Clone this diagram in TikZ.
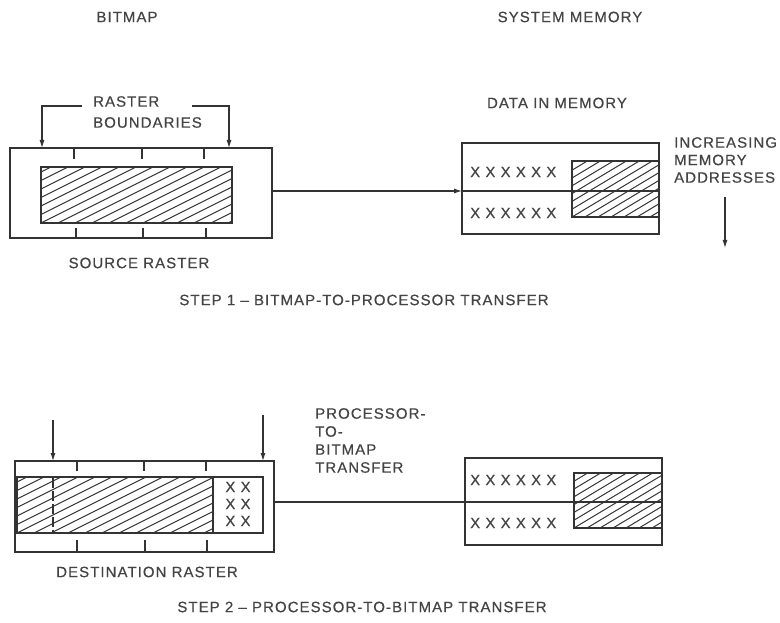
\documentclass[tikz,border=0pt]{standalone}
\usepackage{fontspec}
\setmainfont{Liberation Sans}[LetterSpace=7,FakeBold=0.5]
\usetikzlibrary{arrows.meta}
\definecolor{ink}{HTML}{333333}
\definecolor{txt}{HTML}{444444}
\newcommand\hatchrect[6]{%
  \begin{scope}
    \clip (#1,#2) rectangle (#3,#4);
    \foreach \k in {-15,...,30}{\draw[hl] ({#1+\k*#5},#4) -- ++(300,{-300*#6});}
  \end{scope}}
\begin{document}
\begin{tikzpicture}[x=1pt,y=-1pt,
  lbl/.style={text=txt,font=\fontsize{15}{18}\selectfont,inner sep=0pt},
  frame/.style={draw=ink,line width=2.2pt},
  thin/.style={draw=ink,line width=1.3pt},
  hl/.style={draw=ink,line width=1pt},
  conn/.style={draw=ink,line width=1.1pt},
  arr/.style={draw=ink,line width=1.1pt,-{Latex[length=8pt,width=5pt]}}]
\useasboundingbox (0,0) rectangle (780,623);

% headers
\node[lbl] (hbit) at (127,17) {BITMAP};
\node[lbl] (hmem) at (570,17) {SYSTEM MEMORY};

% ===== STEP 1 =====
\node[lbl,align=left,anchor=north west,font=\fontsize{15}{21}\selectfont] (rb) at (93,96) {RASTER\\BOUNDARIES};
\coordinate (rbl) at (82,106);
\coordinate (rbr) at (192,106);
\coordinate (tl) at (42,148);
\coordinate (tr) at (229,148);
\draw[arr] (rbl) -| (tl);
\draw[arr] (rbr) -| (tr);

\draw[frame] (10,148) rectangle (272,238);
\hatchrect{41}{167}{232}{223}{17}{0.5}
\draw[thin] (41,167) rectangle (232,223);
\foreach \x in {74,142,204} \draw[thin] (\x,148) -- (\x,159);
\foreach \x in {76,143,206} \draw[thin] (\x,228) -- (\x,238);
\node[lbl] (src) at (139,263) {SOURCE RASTER};

\node[lbl] (dim) at (557,103) {DATA IN MEMORY};
\coordinate (srcR) at (272,191);
\coordinate (memL) at (462,191);
\coordinate (memR) at (659,191);
\draw[arr] (srcR) -- (memL);
\draw[frame] (462,143) rectangle (659,234);
\hatchrect{572}{161}{659}{217}{13}{0.6}
\draw[thin] (572,161) rectangle (659,217);
\draw[thin] (memL) -- (memR);
\node[lbl,anchor=west] (xa1) at (470,172) {X X X X X X};
\node[lbl,anchor=west] (xa2) at (470,213) {X X X X X X};

\node[lbl,align=left,anchor=north west,font=\fontsize{15}{17.5}\selectfont] (inc) at (674,137) {INCREASING\\MEMORY\\ADDRESSES};
\coordinate (ia1) at (725,197);
\coordinate (ia2) at (725,248);
\draw[arr] (ia1) -- (ia2);

\node[lbl] (s1) at (364,300) {STEP 1 -- BITMAP-TO-PROCESSOR TRANSFER};

% ===== STEP 2 =====
\coordinate (da1) at (53,420);
\coordinate (da2) at (53,461);
\coordinate (db1) at (263,415);
\coordinate (db2) at (263,461);
\draw[arr] (da1) -- (da2);
\draw[arr] (db1) -- (db2);

\draw[frame] (15,461) rectangle (274,552);
\hatchrect{17}{477}{213}{533}{17}{0.5}
\draw[thin] (17,477) rectangle (263,533);
\draw[thin] (213,477) -- (213,533);
\draw[draw=ink,line width=2.2pt,dash pattern=on 10pt off 3pt] (53,478) -- (53,533);
\foreach \x in {77,144,206} \draw[thin] (\x,461) -- (\x,471);
\foreach \x in {77,145,207} \draw[thin] (\x,540) -- (\x,552);
\node[lbl] (xb1) at (238,487) {X X};
\node[lbl] (xb2) at (238,504) {X X};
\node[lbl] (xb3) at (238,521) {X X};
\node[lbl] (dst) at (147,572) {DESTINATION RASTER};

\node[lbl,align=left,anchor=north west,font=\fontsize{15}{18}\selectfont] (ptb) at (315,408) {PROCESSOR-\\TO-\\BITMAP\\TRANSFER};

\coordinate (dstR) at (274,502);
\coordinate (m2L) at (465,502);
\coordinate (m2R) at (662,502);
\draw[conn] (dstR) -- (m2L);
\draw[frame] (465,458) rectangle (662,545);
\hatchrect{574}{473}{662}{528}{13}{0.6}
\draw[thin] (574,473) rectangle (662,528);
\draw[thin] (m2L) -- (m2R);
\node[lbl,anchor=west] (xc1) at (470,480) {X X X X X X};
\node[lbl,anchor=west] (xc2) at (470,523) {X X X X X X};

\node[lbl] (s2) at (362,607) {STEP 2 -- PROCESSOR-TO-BITMAP TRANSFER};
\end{tikzpicture}
\end{document}
